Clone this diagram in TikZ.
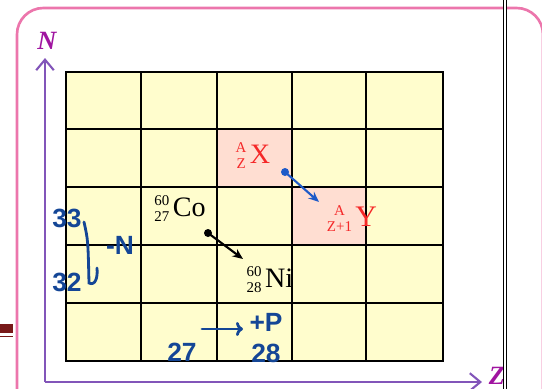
\documentclass[tikz,border=0pt]{standalone}
\usepackage{fontspec}
\setmainfont{Liberation Serif}
\newfontfamily\handfont{Liberation Sans}
\usetikzlibrary{arrows.meta}
\definecolor{framepink}{RGB}{236,118,172}
\definecolor{axiscol}{RGB}{130,85,185}
\definecolor{labelcol}{RGB}{160,20,160}
\definecolor{gridyellow}{RGB}{255,253,205}
\definecolor{cellpink}{RGB}{255,222,210}
\definecolor{nucred}{RGB}{245,40,40}
\definecolor{dotblue}{RGB}{30,90,200}
\definecolor{inkblue}{RGB}{20,70,150}
\definecolor{markred}{RGB}{120,25,25}
\newcommand\nuc[3]{\raisebox{-2.5pt}{\fontsize{8.5}{9}\selectfont\begin{tabular}[b]{@{}c@{}}#1\\#2\end{tabular}}\kern2pt#3}

\begin{document}
\begin{tikzpicture}[x=0.02cm,y=-0.02cm,
  cell/.style={draw=black,line width=0.8pt},
  axis/.style={draw=axiscol,line width=1.2pt,-{Straight Barb[length=6pt,width=10pt]}},
  axlabel/.style={text=labelcol,font=\fontsize{15}{17}\selectfont\bfseries\itshape},
  ink/.style={draw=inkblue,line width=1.6pt,line cap=round},
  hand/.style={text=inkblue,font=\handfont\bfseries\fontsize{15}{17}\selectfont}]
\useasboundingbox(0,0)rectangle(542,389);
% frame
\draw[framepink,line width=1.5pt,rounded corners=15](17,395)--(17,8)--(543,8)--(543,395);
\fill[markred](0,324)rectangle(13,333);
\draw[markred,line width=0.5pt](0,336)--(13,336);
% chart
\fill[gridyellow](66,72)rectangle(443,361);
\fill[cellpink](217,129)rectangle(292,187);
\fill[cellpink](292,187)rectangle(366,245);
\foreach \x in {66,141,217,292,366,443}
  \draw[cell](\x,71)--(\x,362);
\foreach \y in {72,129,187,245,303,361}
  \draw[cell](65,\y)--(444,\y);
% axes
\coordinate(O)at(45,382);
\coordinate(Ntip)at(45,58);
\coordinate(Ztip)at(482,382);
\draw[axis](O)--(Ntip);
\draw[axis](O)--(Ztip);
\node[axlabel](N)at(47,41){N};
\node[axlabel](Z)at(497,376){Z};
% nuclides
\node[text=nucred,font=\fontsize{16}{18}\selectfont](X)at(253,157){\nuc{A}{Z}{X}};
\node[text=nucred,font=\fontsize{17}{19}\selectfont](Y)at(352,220){\nuc{A}{Z+1}{Y}};
\coordinate(dotX)at(285,172);
\coordinate(tipY)at(319,202);
\fill[dotblue](dotX)circle(4);
\draw[dotblue,line width=1.2pt,-{Stealth[length=6pt,width=5pt]}](dotX)--(tipY);
\node[font=\fontsize{16}{18}\selectfont](Co)at(180,210){\nuc{60}{27}{Co}};
\node[font=\fontsize{16}{18}\selectfont](Ni)at(270,281){\nuc{60}{28}{Ni}};
\coordinate(dotCo)at(208,233);
\coordinate(tipNi)at(243,259);
\fill(dotCo)circle(4);
\draw[line width=1.2pt,-{Stealth[length=6pt,width=5pt]}](dotCo)--(tipNi);
% notes
\node[hand](n33)at(67,218){33};
\node[hand](n32)at(67,282){32};
\node[hand](minusN)at(120,245){-N};
\coordinate(downA)at(84,222);
\coordinate(downB)at(89,283);
\coordinate(hook)at(97,268);
\draw[ink](downA)..controls(88,240)..(downB)..controls(95,286)and(98,278)..(hook);
\coordinate(pA)at(202,329);
\coordinate(pB)at(243,329);
\draw[ink,-{To[length=4pt,width=8pt]}](pA)--(pB);
\node[hand](plusP)at(266,322){+P};
\node[hand](n27)at(182,352){27};
\node[hand](n28)at(266,353){28};
% page edge
\draw[line width=0.85pt,double=white,double distance=0.9pt](505,0)--(505,389);
\end{tikzpicture}
\end{document}
